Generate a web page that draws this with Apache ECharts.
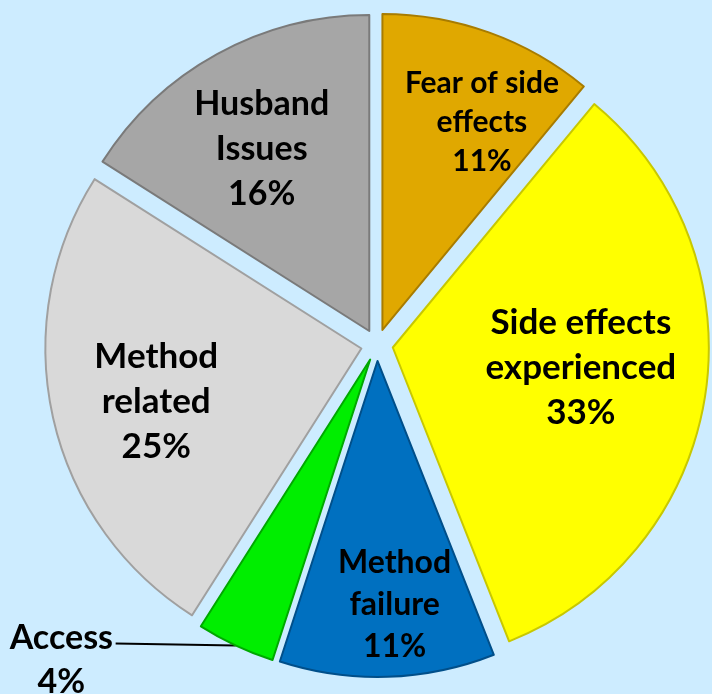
<!DOCTYPE html>
<html>
<head>
<meta charset="utf-8">
<script src="https://cdn.jsdelivr.net/npm/echarts@6/dist/echarts.min.js"></script>
<style>
  html, body { margin: 0; padding: 0; background: #cdecff; }
  #chart { width: 712px; height: 694px; }
</style>
</head>
<body>
<div id="chart"></div>
<script>
const categories = ['Fear of side\neffects', 'Side effects\nexperienced', 'Method\nfailure', 'Access', 'Method\nrelated', 'Husband\nIssues']
const values = [11, 33, 11, 4, 25, 16]
const colors = ['#e0a800', '#ffff00', '#0070c0', '#00ee00', '#d9d9d9', '#a6a6a6']
const edgeColors = ['#a87c00', '#c8c800', '#004f8a', '#00a800', '#a0a0a0', '#7a7a7a']

// per-slice label tweaks (text size differs a bit per slice in the original)
const labelSize = [30, 35, 32, 34, 35, 34]
const labelLine = [39, 45, 42, 44, 45, 45]
const labelShift = [[45, -56], [29, -5], [12, 83], [-75, 6], [-48, 18], [-30, -41]]

const myChart = echarts.init(document.getElementById('chart'))

const option = {
  backgroundColor: '#cdecff',
  textStyle: { fontFamily: 'Lato' },
  series: [
    {
      type: 'pie',
      center: [377, 345],
      radius: [0, 316],
      startAngle: 90,
      clockwise: true,
      selectedMode: 'multiple',
      selectedOffset: 16,
      silent: true,
      animation: false,
      data: categories.map((name, i) => ({
        name: name,
        value: values[i],
        selected: true,
        itemStyle: {
          color: colors[i],
          borderColor: edgeColors[i],
          borderWidth: 2
        },
        label: {
          position: i === 3 ? 'outside' : 'inside',
          fontSize: labelSize[i],
          lineHeight: labelLine[i]
        },
        labelLine: i === 3
          ? { show: true, length: 10, length2: 90, lineStyle: { color: '#000', width: 2 } }
          : { show: false }
      })),
      label: {
        show: true,
        formatter: '{b}\n{d}%',
        color: '#000',
        fontFamily: 'Lato',
        fontWeight: 'bold',
        align: 'center'
      },
      labelLayout: function (params) {
        const s = labelShift[params.dataIndex]
        const out = { dx: s[0], dy: s[1], align: 'center' }
        // Access: one straight leader from the slice edge to the text
        if (params.dataIndex === 3 && params.labelLinePoints) {
          const p0 = params.labelLinePoints[0]
          const end = [p0[0] - 120, p0[1] - 2]
          out.labelLinePoints = [p0, [(p0[0] + end[0]) / 2, (p0[1] + end[1]) / 2], end]
        }
        return out
      }
    }
  ]
}

option && myChart.setOption(option)
</script>
</body>
</html>
